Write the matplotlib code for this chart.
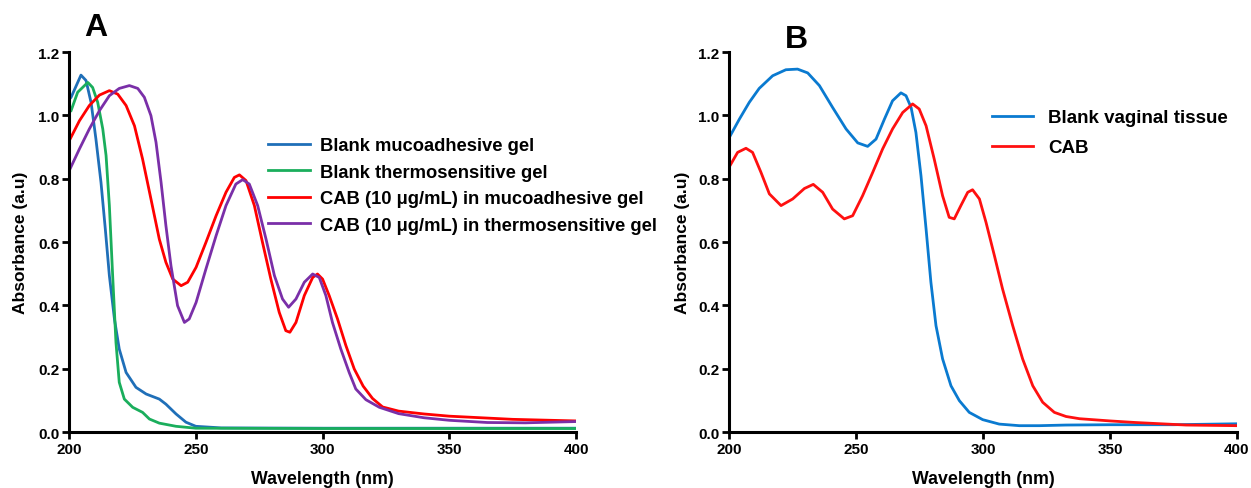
import matplotlib.pyplot as plt
from matplotlib.ticker import FormatStrFormatter

plt.rcParams['font.family'] = ['Liberation Sans', 'DejaVu Sans']
plt.rcParams['font.weight'] = 'bold'

# ---- panel A data ----
wl_muco = [200, 200.8, 204.7, 206.7, 208.7, 210.6, 212.6, 214.3, 215.9, 217.9, 219.8, 222.5, 226.4, 230.4,
           235.6, 238.2, 242.2, 246.1, 250, 260, 300, 350, 400]
abs_muco = [1.05, 1.057, 1.127, 1.11, 1.04, 0.925, 0.788, 0.641, 0.494, 0.357, 0.262, 0.188, 0.141, 0.12,
            0.104, 0.088, 0.057, 0.031, 0.018, 0.013, 0.012, 0.012, 0.012]

wl_thermo = [200.8, 203.4, 207.4, 209.3, 211.3, 213.3, 214.6, 215.9, 217.2, 218.5, 219.8, 221.8, 225.1, 229,
             231.7, 235.6, 242.2, 250, 300, 350, 400]
abs_thermo = [1.015, 1.073, 1.104, 1.088, 1.041, 0.957, 0.873, 0.715, 0.494, 0.283, 0.157, 0.104, 0.078, 0.062,
              0.041, 0.028, 0.018, 0.012, 0.011, 0.011, 0.011]

wl_cab_muco = [200.4, 204.1, 208, 212, 215.9, 219.2, 222.5, 225.8, 229, 232.3, 235.6, 238.2, 240.9, 244.2, 246.8,
               250.1, 254, 258, 261.9, 265.2, 267.2, 269.8, 273.1, 276.3, 279.6, 282.9, 285.5, 287.1, 289.5,
               292.8, 296.1, 298, 300, 302.6, 305.9, 309.2, 312.5, 316, 319.7, 323.7, 330, 340, 350, 375, 400]
abs_cab_muco = [0.925, 0.983, 1.031, 1.064, 1.078, 1.067, 1.031, 0.967, 0.862, 0.736, 0.609, 0.536, 0.483, 0.462,
                0.473, 0.52, 0.599, 0.683, 0.757, 0.804, 0.812, 0.794, 0.715, 0.599, 0.483, 0.378, 0.32, 0.315,
                0.346, 0.431, 0.488, 0.499, 0.483, 0.431, 0.357, 0.273, 0.199, 0.145, 0.106, 0.079, 0.066,
                0.057, 0.05, 0.04, 0.035]

wl_cab_thermo = [200.4, 204.1, 208, 212, 215.9, 219.8, 223.8, 227.1, 229.7, 232.3, 234.3, 236.3, 238.2, 240.2,
                 242.8, 245.5, 247.4, 250.1, 254, 258, 261.9, 265.8, 268.5, 271.1, 274.4, 277.7, 281, 284.2,
                 286.6, 289.5, 292.8, 296.1, 298.7, 301.3, 303.9, 307.2, 310.5, 313.1, 317.1, 322.4, 330, 340,
                 350, 365, 380, 400]
abs_cab_thermo = [0.831, 0.894, 0.957, 1.015, 1.062, 1.085, 1.094, 1.085, 1.057, 0.999, 0.915, 0.788, 0.652,
                  0.525, 0.399, 0.346, 0.357, 0.409, 0.515, 0.62, 0.715, 0.783, 0.797, 0.783, 0.715, 0.609,
                  0.494, 0.42, 0.394, 0.42, 0.473, 0.499, 0.488, 0.431, 0.346, 0.262, 0.188, 0.136, 0.102,
                  0.078, 0.058, 0.045, 0.037, 0.03, 0.029, 0.033]

# ---- panel B data ----
wl_tissue = [200.4, 204.1, 208, 211.9, 217.2, 222.4, 227, 231, 235.6, 240.8, 246.1, 250.7, 254.6, 257.9, 261.2,
             264.4, 267.7, 269.7, 271.7, 273.6, 275.6, 277.6, 279.5, 281.5, 284.1, 287.4, 290.7, 294.6, 299.9,
             306.4, 314.3, 322.2, 332.7, 350, 375, 400]
abs_tissue = [0.934, 0.988, 1.041, 1.085, 1.125, 1.144, 1.146, 1.134, 1.094, 1.025, 0.957, 0.913, 0.902, 0.925,
              0.988, 1.046, 1.071, 1.062, 1.025, 0.946, 0.809, 0.641, 0.473, 0.336, 0.231, 0.146, 0.099, 0.062,
              0.039, 0.025, 0.02, 0.02, 0.022, 0.023, 0.023, 0.026]

wl_cab = [200.4, 203.4, 206.7, 209.3, 212.6, 215.9, 220.5, 225.1, 229.7, 233.2, 236.9, 240.8, 245.4, 248.7, 252.6,
          256.6, 260.5, 264.4, 268.4, 272.3, 274.9, 277.6, 280.8, 284.1, 286.7, 288.7, 291.3, 294, 295.9, 298.6,
          301.2, 304.5, 307.7, 311.7, 315.6, 319.6, 323.5, 328.1, 332.7, 338, 350, 360, 380, 400]
abs_cab = [0.841, 0.883, 0.896, 0.883, 0.82, 0.752, 0.715, 0.736, 0.769, 0.782, 0.757, 0.704, 0.673, 0.683, 0.746,
           0.82, 0.894, 0.957, 1.009, 1.036, 1.02, 0.967, 0.862, 0.746, 0.678, 0.673, 0.715, 0.757, 0.765, 0.736,
           0.662, 0.557, 0.452, 0.336, 0.231, 0.146, 0.094, 0.062, 0.049, 0.042, 0.035, 0.03, 0.022, 0.02]

fig = plt.figure(figsize=(12.51, 4.89), dpi=100)
axA = fig.add_axes([0.0552, 0.1145, 0.4053, 0.7771])
axB = fig.add_axes([0.5827, 0.1145, 0.4061, 0.7771])

lw = 2.0
axA.plot(wl_muco, abs_muco, color='#1f6fb8', lw=lw, label='Blank mucoadhesive gel')
axA.plot(wl_thermo, abs_thermo, color='#1aae5c', lw=lw, label='Blank thermosensitive gel')
axA.plot(wl_cab_muco, abs_cab_muco, color='#ff0000', lw=lw, label='CAB (10 μg/mL) in mucoadhesive gel')
axA.plot(wl_cab_thermo, abs_cab_thermo, color='#7a2fa8', lw=lw, label='CAB (10 μg/mL) in thermosensitive gel')

axB.plot(wl_tissue, abs_tissue, color='#0a7ad0', lw=lw, label='Blank vaginal tissue')
axB.plot(wl_cab, abs_cab, color='#ff1010', lw=lw, label='CAB')

for ax in (axA, axB):
    ax.set_xlim(200, 400)
    ax.set_ylim(0, 1.2)
    ax.set_xticks([200, 250, 300, 350, 400])
    ax.set_yticks([0, 0.2, 0.4, 0.6, 0.8, 1.0, 1.2])
    ax.yaxis.set_major_formatter(FormatStrFormatter('%.1f'))
    for s in ('top', 'right'):
        ax.spines[s].set_visible(False)
    for s in ('left', 'bottom'):
        ax.spines[s].set_linewidth(2.2)
    ax.tick_params(width=2, length=5, labelsize=11, pad=2)
    for lab in ax.get_xticklabels() + ax.get_yticklabels():
        lab.set_fontweight('bold')
    ax.set_xlabel('Wavelength (nm)', fontsize=12.8, fontweight='bold')
    ax.set_ylabel('Absorbance (a.u)', fontsize=12.5, fontweight='bold')
    ax.xaxis.set_label_coords(0.5, -0.1)

axA.yaxis.set_label_coords(-0.08, 0.5)
axB.yaxis.set_label_coords(-0.076, 0.5)

axA.legend(loc='upper left', bbox_to_anchor=(268 / 1251, 1 - 138 / 489), bbox_transform=fig.transFigure,
           frameon=False, fontsize=13.2, handlelength=2.3, handletextpad=0.55, labelspacing=0.52,
           borderpad=0, borderaxespad=0)
axB.legend(loc='upper left', bbox_to_anchor=(992 / 1251, 1 - 110 / 489), bbox_transform=fig.transFigure,
           frameon=False, fontsize=13.5, handlelength=2.2, handletextpad=0.8, labelspacing=0.7,
           borderpad=0, borderaxespad=0)

fig.text(96 / 1251, 1 - 28 / 489, 'A', fontsize=23, fontweight='bold', ha='center', va='center')
fig.text(796 / 1251, 1 - 40 / 489, 'B', fontsize=23, fontweight='bold', ha='center', va='center')

fig.savefig('out.png', dpi=100)
